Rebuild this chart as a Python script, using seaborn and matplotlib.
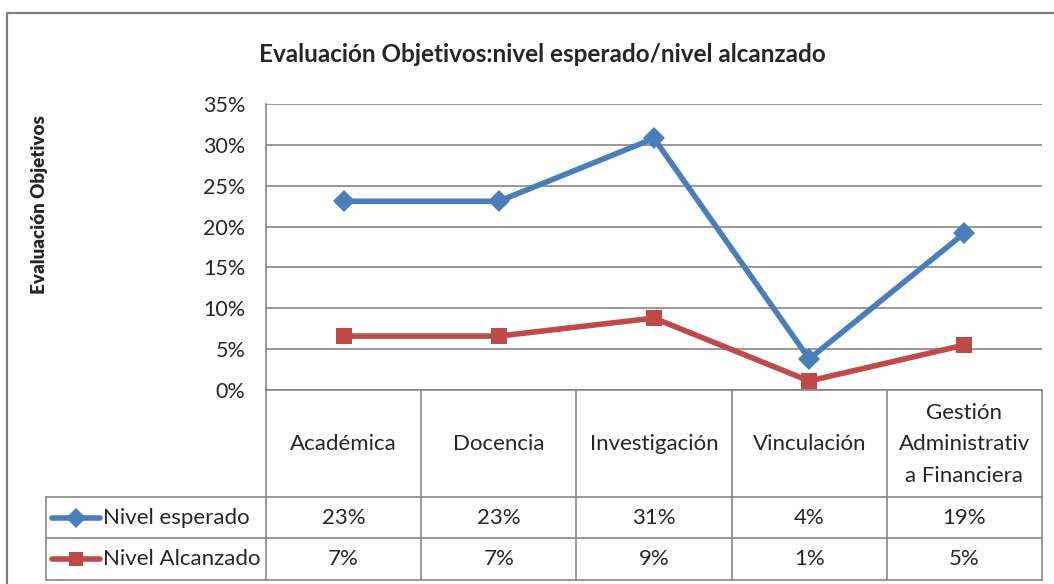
import numpy as np
import pandas as pd
import matplotlib
matplotlib.use('Agg')
import matplotlib.pyplot as plt
from matplotlib.lines import Line2D
import seaborn as sns

# data
categorias = ['Académica', 'Docencia', 'Investigación', 'Vinculación',
              'Gestión\nAdministrativ\na Financiera']
nivel_esperado = [0.231, 0.231, 0.308, 0.038, 0.192]
nivel_alcanzado = [0.066, 0.066, 0.088, 0.011, 0.055]
etiq_esperado = ['23%', '23%', '31%', '4%', '19%']
etiq_alcanzado = ['7%', '7%', '9%', '1%', '5%']
series = ['Nivel esperado', 'Nivel Alcanzado']
colores = ['#4A7EBB', '#BE4B48']
yticks = [0, 0.05, 0.10, 0.15, 0.20, 0.25, 0.30, 0.35]

sns.set_style('white')
plt.rcParams['font.family'] = ['Lato', 'DejaVu Sans']

W, H = 1054, 584
fig = plt.figure(figsize=(W / 100, H / 100), dpi=100)

def fx(x):
    return x / W

def fy(y):
    return 1 - y / H

# plot area in pixels
left, right, top, bottom = 266, 1042, 104, 390
ax = fig.add_axes([fx(left), fy(bottom), fx(right - left), (bottom - top) / H])

df = pd.DataFrame({
    'pos': list(range(5)) * 2,
    'valor': nivel_esperado + nivel_alcanzado,
    'serie': [series[0]] * 5 + [series[1]] * 5,
})
sns.lineplot(data=df, x='pos', y='valor', hue='serie', style='serie',
             markers=['D', 's'], dashes=False, palette=colores,
             linewidth=4, markersize=11, markeredgewidth=0,
             legend=False, ax=ax, clip_on=False, zorder=3)

ax.set_xlim(-0.5, 4.5)
ax.set_ylim(0, 0.35)
ax.set_yticks(yticks)
ax.set_yticklabels([f'{int(round(v * 100))}%' for v in yticks], fontsize=15.5)
ax.set_xticks([])
ax.set_xlabel('')
ax.set_ylabel('')
ax.tick_params(axis='y', length=0, pad=15)
ax.yaxis.grid(True, color='#868686', linewidth=1.2)
for s in ['top', 'right', 'bottom']:
    ax.spines[s].set_visible(False)
ax.spines['left'].set_color('#868686')
ax.spines['left'].set_linewidth(1.2)

gris = '#868686'

def linea(x0, y0, x1, y1, c=gris, lw=1.2):
    fig.add_artist(Line2D([fx(x0), fx(x1)], [fy(y0), fy(y1)], color=c, linewidth=lw))

# outer chart frame
linea(7, 584, 7, 13, c='#7f7f7f', lw=1.6)
linea(7, 13, 1054, 13, c='#7f7f7f', lw=1.6)

# data table
cols = np.linspace(left, right, 6)
r_head, r1, r2, r3 = 390, 497, 538, 580
linea(left, r_head, right, r_head)
linea(46, r1, right, r1)
linea(46, r2, right, r2)
linea(46, r3, right, r3)
linea(46, r1, 46, r3)
for c in cols:
    linea(c, r_head, c, r3)

for i, cat in enumerate(categorias):
    cx = (cols[i] + cols[i + 1]) / 2
    fig.text(fx(cx), fy((r_head + r1) / 2 + 1), cat, ha='center', va='center',
             fontsize=16, linespacing=1.72)
    fig.text(fx(cx), fy((r1 + r2) / 2), etiq_esperado[i], ha='center', va='center', fontsize=16)
    fig.text(fx(cx), fy((r2 + r3) / 2), etiq_alcanzado[i], ha='center', va='center', fontsize=16)

# legend keys inside the table
for (ya, yb), nombre, col, mk in zip([(r1, r2), (r2, r3)], series, colores, ['D', 's']):
    ym = (ya + yb) / 2
    fig.add_artist(Line2D([fx(52), fx(100)], [fy(ym), fy(ym)], color=col, linewidth=4))
    fig.add_artist(Line2D([fx(76)], [fy(ym)], color=col, marker=mk, markersize=10,
                          markeredgewidth=0, linestyle='none'))
    fig.text(fx(103), fy(ym), nombre, ha='left', va='center', fontsize=16)

fig.text(fx(542), fy(55), 'Evaluación Objetivos:nivel esperado/nivel alcanzado',
         ha='center', va='center', fontsize=17.5, fontweight='bold')
fig.text(fx(40), fy(205), 'Evaluación Objetivos', rotation=90, ha='center', va='center',
         fontsize=13.5, fontweight='heavy')

fig.savefig('out.png', dpi=100)
